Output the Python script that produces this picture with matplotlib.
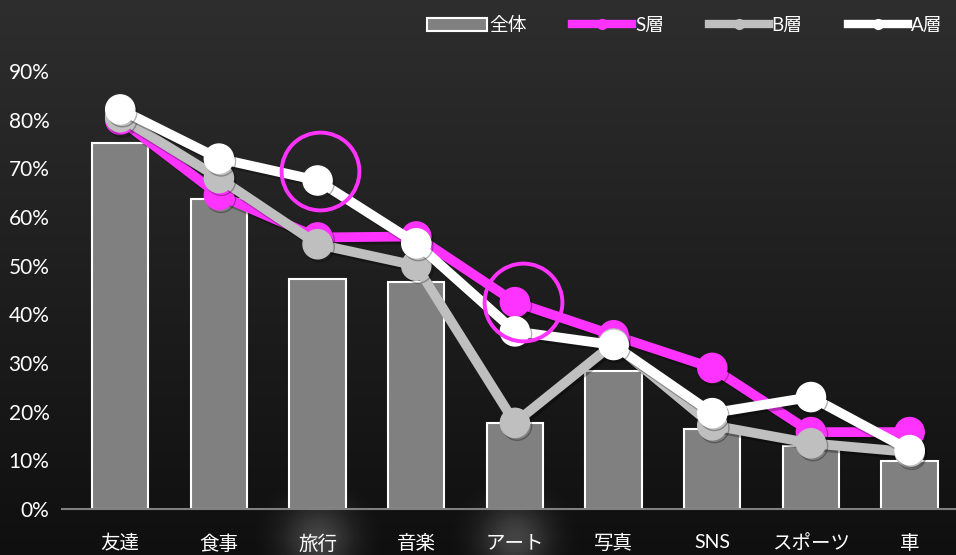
import numpy as np
import matplotlib
matplotlib.use("Agg")
import matplotlib.pyplot as plt
from matplotlib.patches import Rectangle
from matplotlib.lines import Line2D
import matplotlib.patheffects as pe

plt.rcParams["font.family"] = ["Lato", "Noto Sans CJK JP", "DejaVu Sans"]

categories = ["友達", "食事", "旅行", "音楽", "アート", "写真", "SNS", "スポーツ", "車"]
total = [0.752, 0.637, 0.472, 0.466, 0.177, 0.283, 0.164, 0.129, 0.099]
s_layer = [0.80, 0.645, 0.558, 0.56, 0.425, 0.357, 0.29, 0.158, 0.158]
b_layer = [0.805, 0.68, 0.544, 0.50, 0.177, 0.34, 0.172, 0.135, 0.117]
a_layer = [0.821, 0.72, 0.675, 0.546, 0.365, 0.337, 0.197, 0.23, 0.121]
y_ticks = [0, 0.1, 0.2, 0.3, 0.4, 0.5, 0.6, 0.7, 0.8, 0.9]
# ring centres: 旅行 (A層) and アート (S層)
rings = [(2.02, 0.695), (4.08, 0.425)]

fig = plt.figure(figsize=(9.56, 5.55), dpi=100)

# dark vertical gradient behind everything
bg = fig.add_axes([0, 0, 1, 1], zorder=-10)
grad = np.linspace(0, 1, 256).reshape(-1, 1)
top = np.array([0.18, 0.18, 0.18])
bot = np.array([0.06, 0.06, 0.06])
img = top + (bot - top) * grad[..., None]
bg.imshow(img, aspect="auto", extent=[0, 1, 0, 1], origin="upper")
# soft glows under two of the labels
yy, xx = np.mgrid[0:1:200j, 0:1:400j]
for cx in (318 / 956, 515 / 956):
    d = ((xx - cx) * 9.56) ** 2 + ((yy - 15 / 555) * 5.55) ** 2
    glow = np.zeros((200, 400, 4))
    glow[..., :3] = 1
    glow[..., 3] = 0.22 * np.exp(-d / 0.12)
    bg.imshow(glow, aspect="auto", extent=[0, 1, 0, 1], origin="lower")
bg.set_xlim(0, 1)
bg.set_ylim(0, 1)
bg.axis("off")

ax = fig.add_axes([62 / 956, 46 / 555, 1 - 62 / 956, 438 / 555])
ax.set_facecolor("none")
x = np.arange(len(categories))

ax.bar(x, total, width=0.57, color="#808080", edgecolor="white", linewidth=1.5, zorder=2)

shadow = [pe.SimpleLineShadow(offset=(1.5, -2), alpha=0.3), pe.Normal()]
series = [(s_layer, "#ff33ff"), (b_layer, "#bfbfbf"), (a_layer, "white")]
for i, (vals, col) in enumerate(series):
    ax.plot(x, vals, color=col, linewidth=7, marker="o", markersize=21,
            zorder=3 + i, path_effects=shadow, solid_capstyle="round")

for cx, cy in rings:
    ax.plot(cx, cy, marker="o", markersize=56, markerfacecolor="none",
            markeredgecolor="#ff33ff", markeredgewidth=2.8, zorder=7)

ax.set_xlim(-0.59, 8.47)
ax.set_ylim(0, 0.9)
ax.set_yticks(y_ticks)
ax.set_yticklabels([f"{int(round(v * 100))}%" for v in y_ticks])
ax.set_xticks(x)
ax.set_xticklabels(categories)
ax.tick_params(axis="both", length=0, colors="white")
ax.tick_params(axis="x", pad=18, labelsize=14)
ax.tick_params(axis="y", pad=9, labelsize=15)
for s in ["top", "right", "left"]:
    ax.spines[s].set_visible(False)
ax.spines["bottom"].set_color("#808080")
ax.spines["bottom"].set_linewidth(1.5)

handles = [
    Rectangle((0, 0), 1, 1, facecolor="#808080", edgecolor="white", linewidth=1.5),
    Line2D([], [], color="#ff33ff", linewidth=6, marker="o", markersize=7),
    Line2D([], [], color="#bfbfbf", linewidth=6, marker="o", markersize=7),
    Line2D([], [], color="white", linewidth=6, marker="o", markersize=7),
]
fig.legend(handles, ["全体", "S層", "B層", "A層"], loc="upper right",
           bbox_to_anchor=(1.003, 1.0), ncol=4, frameon=False, fontsize=13.5,
           labelcolor="white", handlelength=3.2, handletextpad=0.15,
           columnspacing=2.4, handleheight=0.7)

fig.savefig("out.png", dpi=100)
